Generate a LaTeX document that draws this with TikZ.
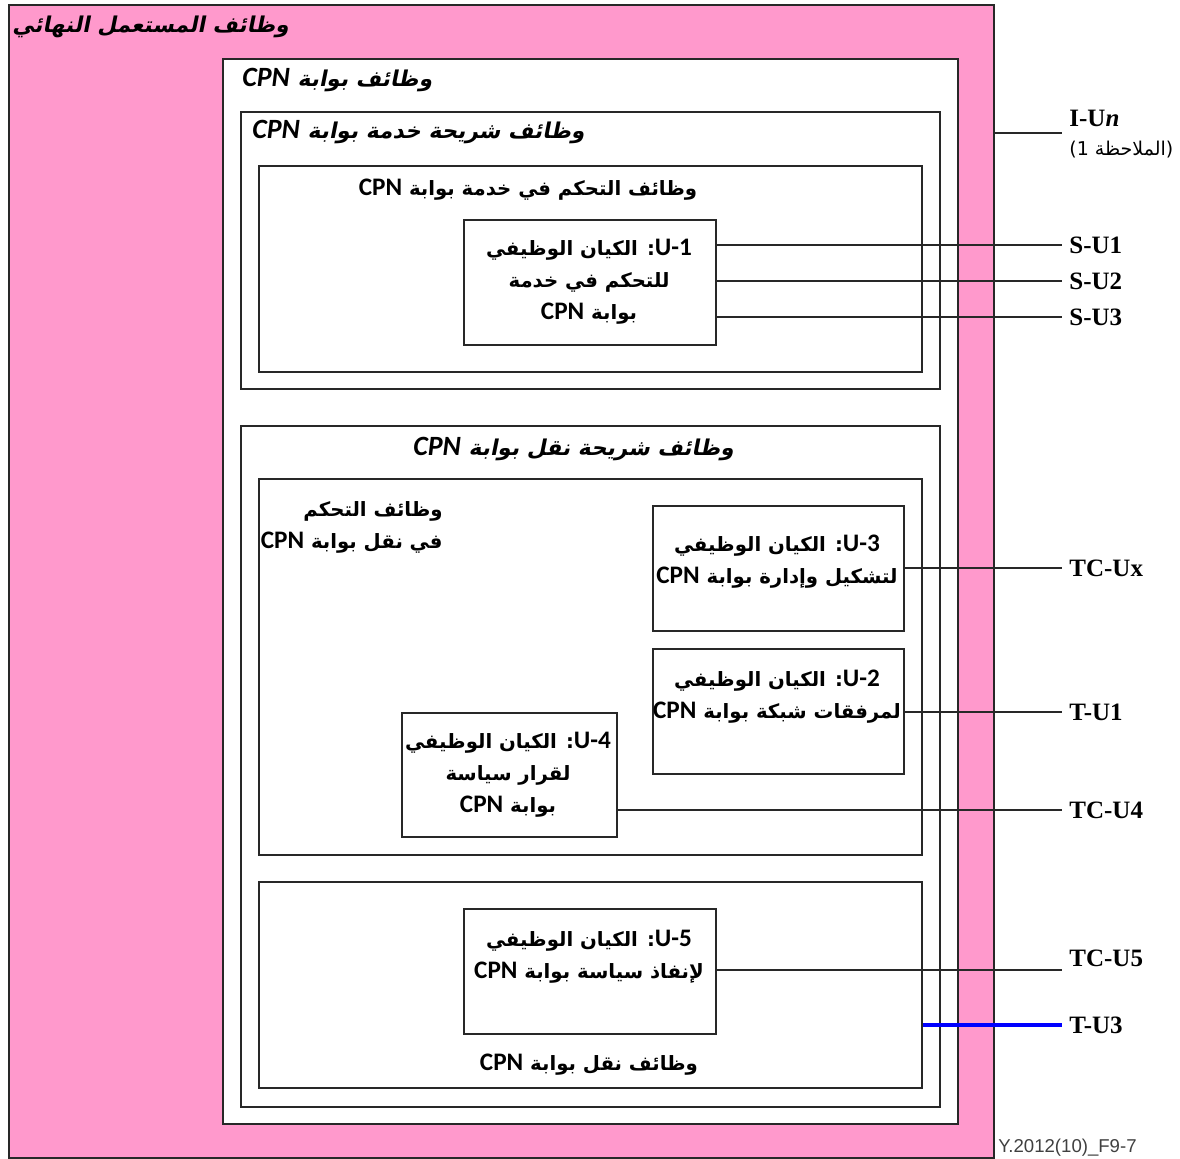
\documentclass[tikz,border=0pt]{standalone}
\usepackage{fontspec}
\setmainfont{Liberation Serif}
\newfontfamily\arf[Script=Arabic]{DejaVu Sans}
\newfontfamily\arfi[Script=Arabic,FakeSlant=0.2]{DejaVu Sans Bold}
\newfontfamily\arfr[Script=Arabic]{DejaVu Sans}
\newfontfamily\latf[Scale=1.28]{Carlito}
\newfontfamily\sansf{Liberation Sans}
\TeXXeTstate=1
\newcommand{\cpn}{\beginL{\latf\bfseries CPN}\endL}
\newcommand{\cpni}{\beginL{\latf\bfseries\itshape CPN}\endL}
\newcommand{\uid}[1]{\beginL{\latf\bfseries U-#1}\endL}
\newcommand{\rl}[1]{\beginR #1\endR}
\definecolor{pinkbg}{RGB}{255,153,204}
\definecolor{edge}{RGB}{40,40,40}
\begin{document}
\begin{tikzpicture}[x=0.5pt,y=-0.5pt,
  rbox/.style={draw=edge, line width=1pt, anchor=north west, inner sep=0pt, fill=white},
  ttl/.style={font=\arfi\fontsize{10.9}{16}\selectfont, inner sep=0pt},
  body/.style={font=\arf\bfseries\fontsize{9.85}{16}\selectfont, inner sep=0pt, align=center},
  lbl/.style={font=\bfseries\fontsize{12.5}{14}\selectfont, anchor=west, inner sep=0pt},
  conn/.style={draw=edge, line width=1pt},
  bconn/.style={draw=blue, line width=1.6pt}]
\useasboundingbox (0,0) rectangle (1180,1159);
% boxes
\node[rbox, fill=pinkbg, minimum width=492.5pt, minimum height=576.5pt] (outer) at (8,4) {};
\node[rbox, minimum width=367.5pt, minimum height=532.5pt] (gw) at (222,58) {};
\node[rbox, minimum width=349.5pt, minimum height=138.5pt] (svc) at (240,111) {};
\node[rbox, minimum width=331.5pt, minimum height=103pt] (svcc) at (258,165) {};
\node[rbox, minimum width=126pt, minimum height=62.5pt] (u1) at (463,219) {};
\node[rbox, minimum width=349.5pt, minimum height=340.5pt] (tr) at (240,425) {};
\node[rbox, minimum width=331.5pt, minimum height=188pt] (trc) at (258,478) {};
\node[rbox, minimum width=125.5pt, minimum height=62.5pt] (u3) at (652,505) {};
\node[rbox, minimum width=125.5pt, minimum height=62.5pt] (u2) at (652,648) {};
\node[rbox, minimum width=107.5pt, minimum height=62pt] (u4) at (401,712) {};
\node[rbox, minimum width=331.5pt, minimum height=103pt] (trf) at (258,881) {};
\node[rbox, minimum width=126pt, minimum height=62.5pt] (u5) at (463,908) {};
% titles
\node[ttl, anchor=west] (touter) at (12,27) {\rl{وظائف المستعمل النهائي}};
\node[ttl, anchor=west] (tgw) at (242,80) {\rl{وظائف بوابة \cpni}};
\node[ttl, anchor=west] (tsvc) at (252,132) {\rl{وظائف شريحة خدمة بوابة \cpni}};
\node[body] (tsvcc) at (528,190) {\rl{وظائف التحكم في خدمة بوابة \cpn}};
\node[ttl, anchor=west] (ttr) at (413,449) {\rl{وظائف شريحة نقل بوابة \cpni}};
\node[body, align=right, anchor=east] (ttrc) at (443,527) {\rl{وظائف التحكم}\\\rl{في نقل بوابة \cpn}};
\node[body] (ttrf) at (589,1065) {\rl{وظائف نقل بوابة \cpn}};
% entity texts
\node[body] (tu1) at (589,282) {\rl{\uid{1}: الكيان الوظيفي}\\\rl{للتحكم في خدمة}\\\rl{بوابة \cpn}};
\node[body] (tu3) at (777,562) {\rl{\uid{3}: الكيان الوظيفي}\\\rl{لتشكيل وإدارة بوابة \cpn}};
\node[body] (tu2) at (777,697) {\rl{\uid{2}: الكيان الوظيفي}\\\rl{لمرفقات شبكة بوابة \cpn}};
\node[body] (tu4) at (508,775) {\rl{\uid{4}: الكيان الوظيفي}\\\rl{لقرار سياسة}\\\rl{بوابة \cpn}};
\node[body] (tu5) at (589,957) {\rl{\uid{5}: الكيان الوظيفي}\\\rl{لإنفاذ سياسة بوابة \cpn}};
% right labels
\node[lbl] (liun) at (1069,118) {I-U\textit{n}};
\node[font=\arfr\fontsize{9.5}{12}\selectfont, anchor=west, inner sep=0pt] (lnote) at (1069,150) {\rl{(الملاحظة 1)}};
\node[lbl] (lsu1) at (1069,245) {S-U1};
\node[lbl] (lsu2) at (1069,281) {S-U2};
\node[lbl] (lsu3) at (1069,317) {S-U3};
\node[lbl] (ltcux) at (1069,568) {TC-Ux};
\node[lbl] (ltu1) at (1069,712) {T-U1};
\node[lbl] (ltcu4) at (1069,810) {TC-U4};
\node[lbl] (ltcu5) at (1069,958) {TC-U5};
\node[lbl] (ltu3) at (1069,1025) {T-U3};
% connector ends
\coordinate (ciun) at (1062,133);
\coordinate (csu1) at (1062,245);
\coordinate (csu2) at (1062,281);
\coordinate (csu3) at (1062,317);
\coordinate (ctcux) at (1062,568);
\coordinate (ctu1) at (1062,712);
\coordinate (ctcu4) at (1062,810);
\coordinate (ctcu5) at (1062,970);
\coordinate (ctu3) at (1062,1025);
% connectors
\draw[conn] (outer.east |- ciun) -- (ciun);
\draw[conn] (u1.east |- csu1) -- (csu1);
\draw[conn] (u1.east |- csu2) -- (csu2);
\draw[conn] (u1.east |- csu3) -- (csu3);
\draw[conn] (u3.east |- ctcux) -- (ctcux);
\draw[conn] (u2.east |- ctu1) -- (ctu1);
\draw[conn] (u4.east |- ctcu4) -- (ctcu4);
\draw[conn] (u5.east |- ctcu5) -- (ctcu5);
\draw[bconn] (trf.east |- ctu3) -- (ctu3);
% footer
\node[font=\sansf\fontsize{9.3}{11}\selectfont, text=black!75, anchor=west, inner sep=0pt] (foot) at (998,1148) {Y.2012(10)\_F9-7};
\end{tikzpicture}
\end{document}
